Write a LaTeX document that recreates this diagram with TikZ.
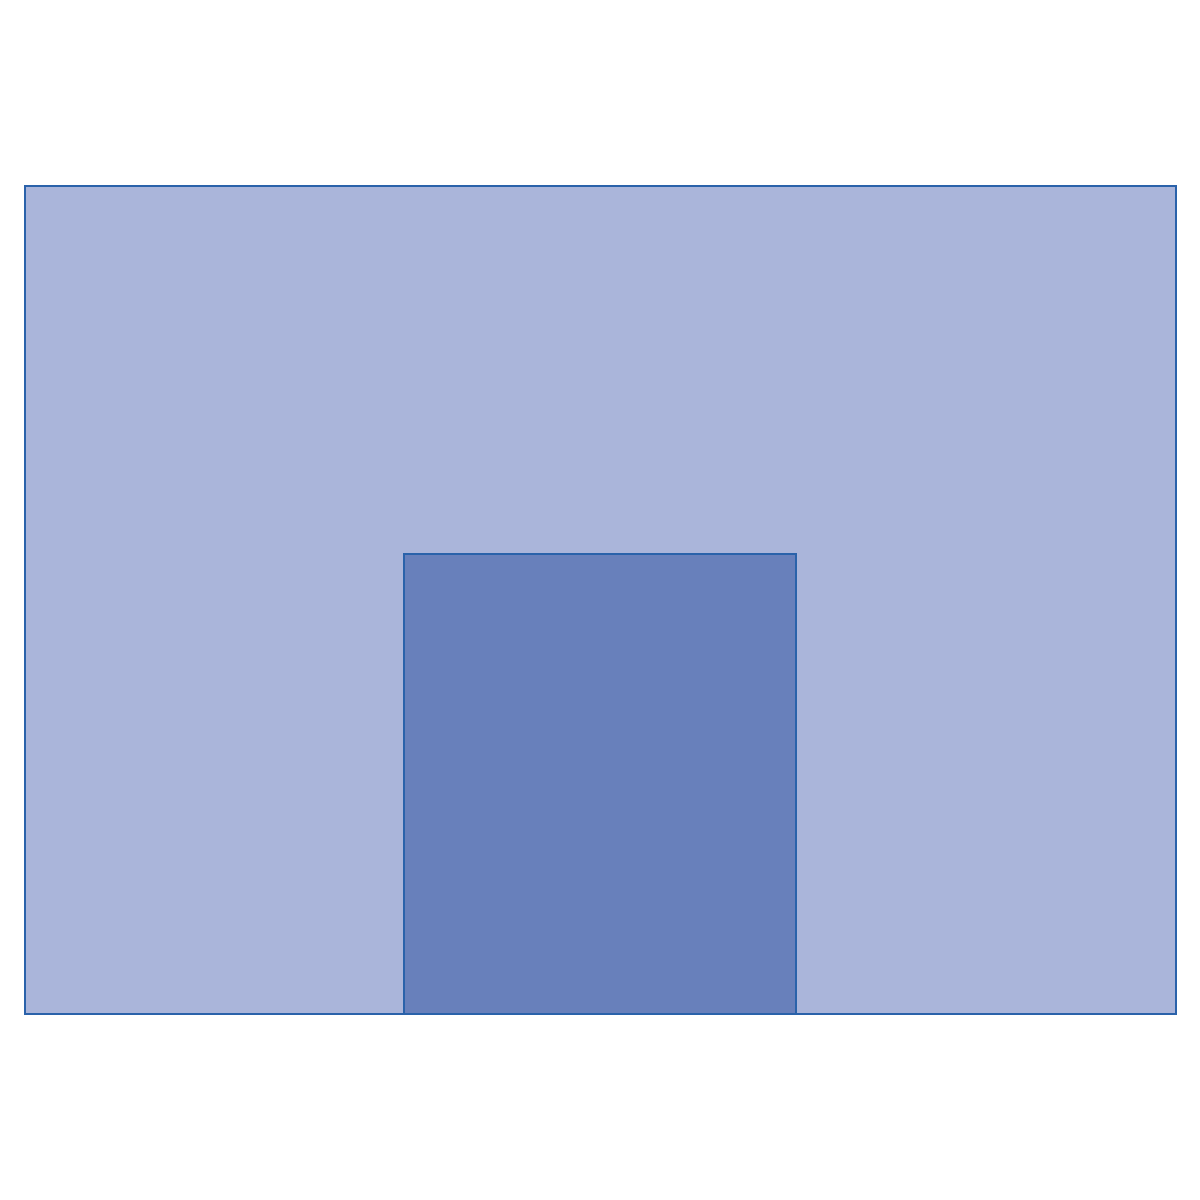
\documentclass[tikz,border=0pt]{standalone}
\definecolor{outerfill}{HTML}{AAB5DA}
\definecolor{innerfill}{HTML}{6880BB}
\definecolor{edge}{HTML}{2A62AA}
\tikzset{panel/.style={draw=edge,line width=1.1pt}}
\begin{document}
\begin{tikzpicture}[x=0.02cm,y=-0.02cm]
\useasboundingbox[fill=white] (0,0) rectangle (1200,1200);
\path[panel,fill=outerfill] (25,186) rectangle (1176,1014);
\path[panel,fill=innerfill] (404,554) rectangle (796,1014);
\end{tikzpicture}
\end{document}
